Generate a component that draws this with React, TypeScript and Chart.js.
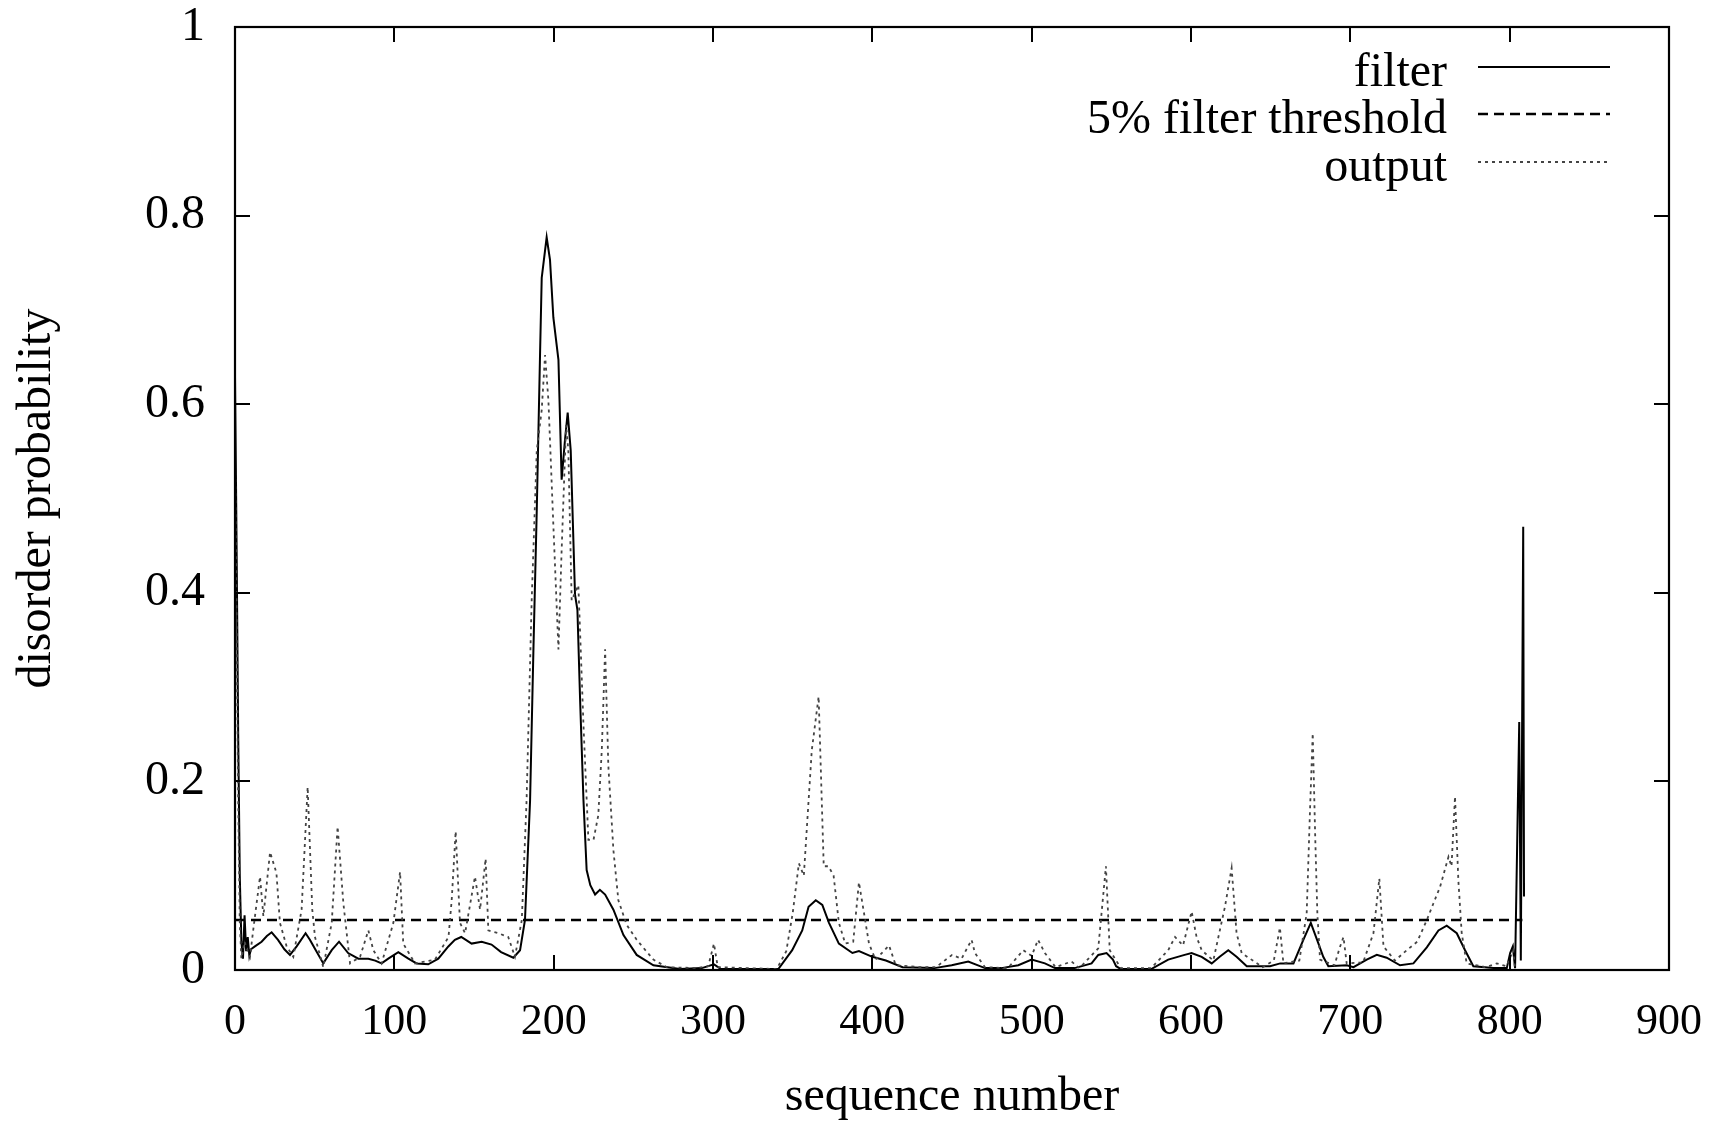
import { useEffect, useRef } from "react";
import { Chart, registerables } from "chart.js";

Chart.register(...registerables);

const xTicks = [0, 100, 200, 300, 400, 500, 600, 700, 800, 900];
const yTicks = [0, 0.2, 0.4, 0.6, 0.8, 1];

const filterX = [
  0, 1, 2, 3, 4, 5, 6, 7, 8, 9, 10, 12.5, 16.7, 20, 23, 27, 31, 34.5, 38.7, 44.3, 47, 50, 55.4, 60.7, 65.3, 71, 77.4,
  83.7, 88, 92, 96.2, 102.5, 108.8, 114, 121.3, 127.6, 133.9, 138, 142, 148.5, 154.8, 161, 167, 174.7, 178.9, 182,
  185.2, 187.3, 189.4, 191.5, 192.5, 195.6, 197.7, 199.8, 203, 205, 207.1, 208.8, 210.7, 213.4, 214.9, 216.6, 218.7,
  220.7, 223, 226, 229, 232.3, 237.5, 243.8, 252.1, 262.6, 279.3, 293, 300.6, 305, 341, 349.7, 356, 360, 364.5, 368.6,
  372.8, 379, 387.5, 391.6, 400, 408.5, 419, 439, 449.8, 460.2, 470.7, 481, 491.6, 500, 508.3, 514.6, 527, 537.6,
  541.8, 547, 551, 553, 556, 575, 585.7, 596, 600.4, 606.7, 613, 618, 623.4, 628.6, 635, 649.6, 656, 664.3, 670.5,
  675.2, 680, 683, 686.2, 697.7, 702, 710.3, 716.6, 722.8, 731.2, 739.6, 748, 755.3, 760.5, 766.8, 772, 777.2, 789.8,
  798.2, 800.3, 802, 803.4, 806, 807, 808.5, 809,
];
const filterY = [
  0.63, 0.45, 0.25, 0.1, 0.03, 0.012, 0.058, 0.02, 0.035, 0.015, 0.022, 0.025, 0.03, 0.036, 0.04, 0.032, 0.022, 0.016,
  0.025, 0.039, 0.032, 0.023, 0.007, 0.021, 0.03, 0.018, 0.012, 0.012, 0.01, 0.007, 0.012, 0.019, 0.012, 0.007, 0.006,
  0.012, 0.025, 0.032, 0.035, 0.028, 0.03, 0.027, 0.019, 0.013, 0.021, 0.053, 0.18, 0.34, 0.488, 0.657, 0.734, 0.777,
  0.753, 0.692, 0.647, 0.52, 0.562, 0.591, 0.551, 0.398, 0.382, 0.286, 0.18, 0.106, 0.09, 0.08, 0.085, 0.08, 0.064,
  0.037, 0.016, 0.005, 0.001, 0.002, 0.006, 0.001, 0.001, 0.021, 0.042, 0.067, 0.074, 0.069, 0.05, 0.028, 0.018, 0.02,
  0.014, 0.01, 0.003, 0.002, 0.005, 0.009, 0.002, 0.002, 0.005, 0.011, 0.007, 0.002, 0.002, 0.007, 0.016, 0.018, 0.011,
  0.004, 0.001, 0.001, 0.011, 0.016, 0.018, 0.014, 0.007, 0.014, 0.021, 0.014, 0.004, 0.004, 0.007, 0.007, 0.032,
  0.05, 0.028, 0.014, 0.004, 0.005, 0.003, 0.011, 0.016, 0.013, 0.005, 0.007, 0.024, 0.042, 0.047, 0.039, 0.021, 0.004,
  0.002, 0.002, 0.018, 0.025, 0.002, 0.263, 0.01, 0.47, 0.078,
];

const outputX = [
  0, 1, 2, 3, 4, 6, 8, 9.4, 12, 15.7, 17.8, 22, 26, 28.2, 32.4, 36.6, 41.8, 45.6, 48.5, 50.2, 55.4, 60.7, 64.4, 68,
  72.2, 78.5, 83.7, 86.8, 92, 99.4, 103.6, 105.6, 113, 125.5, 134, 136, 138.5, 141.2, 144.4, 150.6, 153.8, 157.3, 159,
  165.3, 171.5, 175.7, 180, 183, 186.2, 189.4, 192.5, 194.6, 196.7, 199.8, 203, 205, 207.8, 209.2, 211.3, 215.5, 218.7,
  221.8, 225, 228, 230.2, 232.3, 234.3, 237.5, 240.6, 245.8, 252.1, 262.6, 271, 290, 297, 300.6, 303, 340, 346, 350,
  353.9, 357, 362, 366.3, 369.5, 372.5, 375.7, 379, 383, 388, 391.6, 397.9, 402, 410.5, 414.7, 430, 440, 450, 456,
  462.3, 464.4, 470.7, 485, 494.8, 500, 504, 508.3, 515, 525, 530, 541.8, 546.6, 549, 556, 575, 585.7, 590, 595, 600.4,
  603.5, 606.7, 614, 621.3, 625.5, 628.6, 631.8, 645, 652, 655.8, 658, 668, 672.6, 674.7, 676.4, 677.9, 679.3, 681, 690,
  693.6, 695.7, 697.7, 708, 714.5, 718.2, 720.8, 728, 735.4, 742, 748, 752, 756.3, 761.6, 763.5, 765.7, 767.8, 769.9,
  773, 785, 791.9, 798, 802.3, 803.4,
];
const outputY = [
  0.55, 0.38, 0.18, 0.05, 0.012, 0.03, 0.02, 0.014, 0.05, 0.099, 0.057, 0.125, 0.103, 0.05, 0.025, 0.014, 0.064, 0.194,
  0.064, 0.035, 0.003, 0.05, 0.152, 0.071, 0.007, 0.014, 0.042, 0.021, 0.007, 0.05, 0.104, 0.028, 0.007, 0.011, 0.035,
  0.074, 0.147, 0.05, 0.039, 0.099, 0.064, 0.118, 0.042, 0.039, 0.035, 0.014, 0.053, 0.18, 0.392, 0.551, 0.594, 0.652,
  0.604, 0.472, 0.34, 0.445, 0.578, 0.551, 0.392, 0.408, 0.26, 0.138, 0.138, 0.164, 0.233, 0.34, 0.217, 0.127, 0.074,
  0.048, 0.032, 0.011, 0.003, 0.002, 0.004, 0.028, 0.003, 0.001, 0.02, 0.06, 0.113, 0.1, 0.233, 0.29, 0.11, 0.11, 0.1,
  0.05, 0.028, 0.03, 0.093, 0.028, 0.011, 0.026, 0.005, 0.003, 0.003, 0.016, 0.012, 0.032, 0.018, 0.003, 0.002, 0.021,
  0.015, 0.032, 0.018, 0.003, 0.009, 0.002, 0.023, 0.11, 0.021, 0.002, 0.002, 0.021, 0.035, 0.026, 0.062, 0.035, 0.021,
  0.01, 0.067, 0.108, 0.039, 0.018, 0.003, 0.01, 0.045, 0.007, 0.01, 0.06, 0.17, 0.251, 0.145, 0.06, 0.011, 0.005,
  0.025, 0.035, 0.007, 0.008, 0.039, 0.097, 0.025, 0.01, 0.021, 0.03, 0.053, 0.07, 0.088, 0.12, 0.11, 0.184, 0.095,
  0.039, 0.007, 0.003, 0.007, 0.004, 0.021, 0.0,
];

const thresholdValue = 0.053;
const thresholdRange = [0, 808];

const seriesLabels = ["filter", "5% filter threshold", "output"];

const FONT = "'Liberation Serif', 'Times New Roman', serif";

const framePlugin = {
  id: "gnuplotFrame",
  afterDatasetsDraw(chart: any) {
    const { ctx, chartArea } = chart;
    const { left, right, top, bottom } = chartArea;
    const xs = chart.scales.x;
    const ys = chart.scales.y;
    const tl = 15;
    ctx.save();
    ctx.strokeStyle = "#000";
    ctx.lineWidth = 2;
    ctx.beginPath();
    for (const v of yTicks) {
      const py = Math.round(ys.getPixelForValue(v));
      ctx.moveTo(left, py);
      ctx.lineTo(left + tl, py);
      ctx.moveTo(right, py);
      ctx.lineTo(right - tl, py);
    }
    for (const v of xTicks) {
      const px = Math.round(xs.getPixelForValue(v));
      ctx.moveTo(px, bottom);
      ctx.lineTo(px, bottom - tl);
      ctx.moveTo(px, top);
      ctx.lineTo(px, top + tl);
    }
    ctx.stroke();
    ctx.lineWidth = 2.2;
    ctx.strokeRect(left, top, right - left, bottom - top);
    ctx.restore();
  },
};

const legendPlugin = {
  id: "gnuplotLegend",
  afterDraw(chart: any) {
    const { ctx } = chart;
    const textRight = 1447;
    const lineStart = 1478;
    const lineEnd = 1610;
    const baselines = [86, 133, 181];
    ctx.save();
    ctx.font = `48px ${FONT}`;
    ctx.fillStyle = "#000";
    ctx.textAlign = "right";
    ctx.textBaseline = "alphabetic";
    chart.data.datasets.forEach((ds: any, i: number) => {
      const by = baselines[i];
      ctx.fillText(ds.label, textRight, by);
      ctx.beginPath();
      ctx.strokeStyle = ds.borderColor;
      ctx.lineWidth = ds.borderWidth;
      ctx.setLineDash(ds.borderDash || []);
      ctx.moveTo(lineStart, by - 19);
      ctx.lineTo(lineEnd, by - 19);
      ctx.stroke();
    });
    ctx.restore();
  },
};

export default function App() {
  const ref = useRef<HTMLCanvasElement | null>(null);

  useEffect(() => {
    if (!ref.current) return;
    const filterData = filterX.map((x, i) => ({ x, y: filterY[i] }));
    const outputData = outputX.map((x, i) => ({ x, y: outputY[i] }));
    const thresholdData = thresholdRange.map((x) => ({ x, y: thresholdValue }));

    const chart = new Chart(ref.current, {
      type: "line",
      data: {
        datasets: [
          {
            label: seriesLabels[0],
            data: filterData,
            borderColor: "#000",
            borderWidth: 2,
            pointRadius: 0,
            tension: 0,
            order: 2,
          },
          {
            label: seriesLabels[1],
            data: thresholdData,
            borderColor: "#000",
            borderWidth: 2.6,
            borderDash: [10, 6],
            pointRadius: 0,
            tension: 0,
            order: 1,
          },
          {
            label: seriesLabels[2],
            data: outputData,
            borderColor: "#444",
            borderWidth: 1.8,
            borderDash: [3, 4],
            pointRadius: 0,
            tension: 0,
            order: 0,
          },
        ],
      },
      options: {
        responsive: false,
        animation: false,
        parsing: false as any,
        layout: { padding: { top: 27, right: 52, left: 0, bottom: 0 }, autoPadding: false } as any,
        plugins: {
          legend: { display: false },
          tooltip: { enabled: false },
        },
        scales: {
          x: {
            type: "linear",
            min: 0,
            max: 900,
            afterBuildTicks: (s: any) => {
              s.ticks = xTicks.map((v) => ({ value: v }));
            },
            afterFit: (s: any) => {
              s.height = 151;
              s.paddingLeft = 0;
              s.paddingRight = 0;
            },
            grid: { display: false, drawTicks: false },
            border: { display: false },
            ticks: {
              color: "#000",
              padding: 26,
              maxRotation: 0,
              autoSkip: false,
              font: { family: FONT, size: 44 },
              callback: (v: any) => String(Number(v)),
            },
            title: {
              display: true,
              text: "sequence number",
              color: "#000",
              font: { family: FONT, size: 48, lineHeight: 1.0 },
              padding: { top: 0, bottom: 0 },
            },
          },
          y: {
            type: "linear",
            min: 0,
            max: 1,
            afterBuildTicks: (s: any) => {
              s.ticks = yTicks.map((v) => ({ value: v }));
            },
            afterFit: (s: any) => {
              s.width = 235;
              s.paddingTop = 0;
              s.paddingBottom = 0;
            },
            grid: { display: false, drawTicks: false },
            border: { display: false },
            ticks: {
              color: "#000",
              padding: 30,
              autoSkip: false,
              font: { family: FONT, size: 48 },
              callback: (v: any) => String(Number(v)),
            },
            title: {
              display: true,
              text: "disorder probability",
              color: "#000",
              font: { family: FONT, size: 48, lineHeight: 1.2 },
              padding: { top: 9, bottom: 0 },
            },
          },
        },
      },
      plugins: [framePlugin, legendPlugin],
    });
    return () => chart.destroy();
  }, []);

  return (
    <div style={{ position: "fixed", left: 0, top: 0, width: 1721, height: 1121, background: "#fff" }}>
      <canvas ref={ref} width={1721} height={1121} style={{ width: 1721, height: 1121, display: "block" }} />
    </div>
  );
}
